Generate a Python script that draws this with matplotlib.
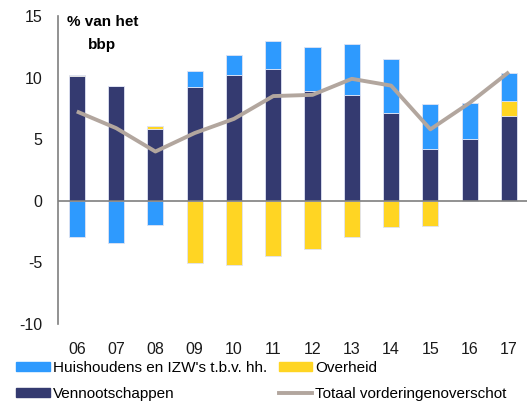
import matplotlib.pyplot as plt
import numpy as np

plt.rcParams['font.family'] = ['Liberation Sans', 'DejaVu Sans']
plt.rcParams['axes.unicode_minus'] = False

jaren = ["06", "07", "08", "09", "10", "11", "12", "13", "14", "15", "16", "17"]
vennootschappen = [10.1, 9.3, 5.85, 9.2, 10.2, 10.7, 8.95, 8.55, 7.1, 4.2, 5.0, 6.85]
overheid_pos = [0.1, 0.0, 0.2, 0.0, 0.0, 0.0, 0.0, 0.0, 0.0, 0.0, 0.0, 1.25]
huish_pos = [0.0, 0.0, 0.0, 1.3, 1.65, 2.25, 3.55, 4.2, 4.4, 3.65, 2.9, 2.25]
huish_neg = [-2.95, -3.4, -2.0, 0.0, 0.0, 0.0, 0.0, 0.0, 0.0, 0.0, 0.0, 0.0]
overheid_neg = [0.0, 0.0, 0.0, -5.05, -5.25, -4.45, -3.9, -2.9, -2.15, -2.05, 0.0, 0.0]
totaal = [7.25, 5.9, 4.0, 5.5, 6.65, 8.5, 8.6, 9.9, 9.35, 5.8, 7.95, 10.45]

c_blauw = "#2E9AFE"
c_geel = "#FFD523"
c_navy = "#343A70"
c_lijn = "#B2A69E"

fig = plt.figure(figsize=(5.27, 4.05), dpi=100)
ax = fig.add_axes([0.110, 0.2, 0.890, 0.7605])

x = np.arange(len(jaren))
w = 0.41
rand = dict(edgecolor="#dfe3f3", linewidth=0.6)

vp = np.array(vennootschappen)
op = np.array(overheid_pos)
ax.bar(x, vp, w, color=c_navy, **rand)
ax.bar(x, op, w, bottom=vp, color=c_geel, **rand)
ax.bar(x, huish_pos, w, bottom=vp + op, color=c_blauw, **rand)
ax.bar(x, huish_neg, w, color=c_blauw, **rand)
ax.bar(x, overheid_neg, w, color=c_geel, **rand)
ax.plot(x, totaal, color=c_lijn, linewidth=2.8, solid_capstyle="butt")

ax.axhline(0, color="#7f7f7f", linewidth=1.2, zorder=3)

ax.set_xlim(-0.48, 11.46)
ax.set_ylim(-10, 15)
ax.set_yticks([-10, -5, 0, 5, 10, 15])
ax.set_xticks(x)
ax.set_xticklabels(jaren)
ax.tick_params(axis="both", length=0, labelsize=11.5, colors="#1a1a1a")
ax.tick_params(axis="y", pad=11)
ax.tick_params(axis="x", pad=13)
for s in ("top", "right", "bottom"):
    ax.spines[s].set_visible(False)
ax.spines["left"].set_color("#7f7f7f")
ax.spines["left"].set_linewidth(1.2)

fig.text(0.194, 0.962, "% van het\nbbp", ha="center", va="top",
         fontsize=11, fontweight="bold", linespacing=1.75)

handles = [
    plt.Rectangle((0, 0), 1, 1, color=c_blauw),
    plt.Rectangle((0, 0), 1, 1, color=c_navy),
    plt.Rectangle((0, 0), 1, 1, color=c_geel),
    plt.Line2D([], [], color=c_lijn, linewidth=2.8),
]
labels = ["Huishoudens en IZW's t.b.v. hh.", "Vennootschappen",
          "Overheid", "Totaal vorderingenoverschot"]
fig.legend(handles, labels, ncol=2, loc="lower left",
           bbox_to_anchor=(0.005, -0.024), frameon=False, fontsize=11,
           handlelength=2.2, handleheight=0.6, handletextpad=0.2,
           labelspacing=0.8, columnspacing=0.75)

fig.savefig("out.png", dpi=100)
